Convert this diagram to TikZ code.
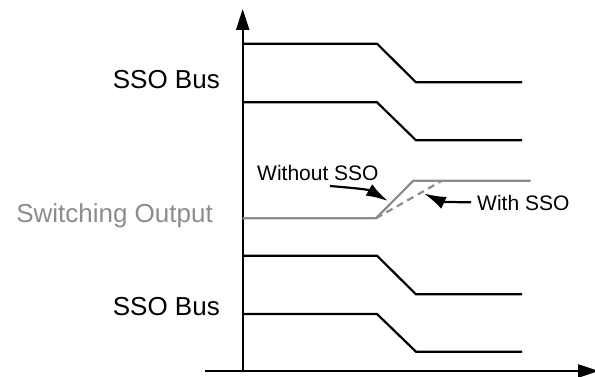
\documentclass[tikz,border=0pt]{standalone}
\usepackage{fontspec}
\setmainfont{Liberation Sans}
\usetikzlibrary{arrows.meta}
\definecolor{swgray}{RGB}{140,140,140}

\begin{document}
\begin{tikzpicture}[x=1pt, y=-1pt,
        wave/.style={line width=2.2pt, line join=miter},
        axisline/.style={line width=2.2pt, -{Triangle[length=21pt, width=13pt]}},
        pointer/.style={line width=2.2pt, -{Latex[length=22pt, width=13pt]}},
        biglabel/.style={inner sep=0pt, anchor=base east, font=\fontsize{26}{30}\selectfont},
        smalllabel/.style={inner sep=0pt, anchor=base west, font=\fontsize{21}{25}\selectfont}]
            \useasboundingbox (0,0) rectangle (595,377);

            \coordinate (o) at (242.7, 371);
            \coordinate (ytop) at (242.7, 9);
            \coordinate (xleft) at (205, 371);
            \coordinate (xright) at (599, 371);

            \draw[axisline] (o) -- (ytop);
            \draw[axisline] (xleft) -- (xright);

            % bus lines, high level / low level
            \foreach \hi/\lo in {43.7/82.3, 102.3/140.3, 255.7/294.3, 314/351.7}
                \draw[wave] (242.7, \hi) -- (377, \hi) -- (416, \lo) -- (522, \lo);

            % switching output
            \coordinate (s1) at (376, 218.3);
            \coordinate (s2) at (413.3, 180.7);
            \coordinate (s3) at (442, 180.7);
            \draw[wave, swgray] (242.7, 218.3) -- (s1) -- (s2) -- (530.7, 180.7);
            \draw[wave, swgray, dash pattern=on 7pt off 5pt] (s1) -- (s3);

            \node[biglabel] (bus1) at (220, 89) {SSO Bus};
            \node[biglabel, text=swgray] (swout) at (213, 222.7) {Switching Output};
            \node[biglabel] (bus2) at (220, 315) {SSO Bus};

            \node[smalllabel] (wo) at (257, 181) {Without SSO};
            \node[smalllabel] (wi) at (477, 211) {With SSO};

            \coordinate (wostart) at (330, 186);
            \coordinate (woend) at (388, 201);
            \coordinate (wistart) at (471, 202.3);
            \coordinate (wiend) at (424, 193.5);
            \draw[pointer] (wostart) to[out=-5, in=150] (woend);
            \draw[pointer] (wistart) to[out=180, in=-25] (wiend);
        \end{tikzpicture}
\end{document}
